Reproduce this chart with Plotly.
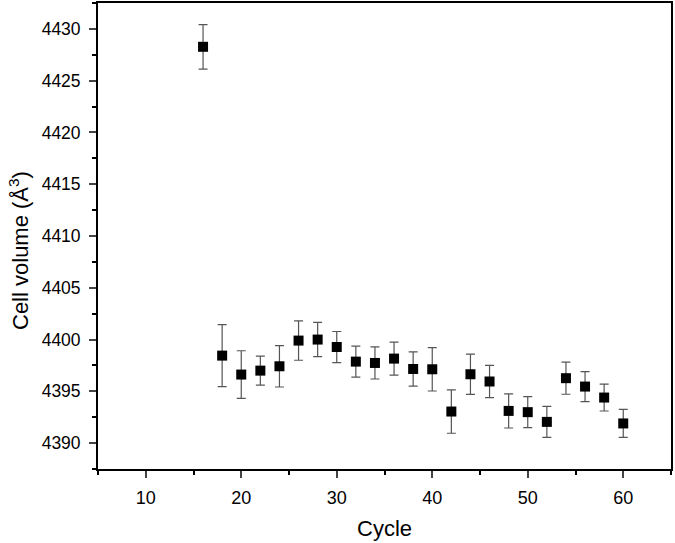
import plotly.graph_objects as go

cycle = [16, 18, 20, 22, 24, 26, 28, 30, 32, 34, 36, 38, 40, 42, 44, 46, 48, 50, 52, 54, 56, 58, 60]
volume = [4428.27, 4398.45, 4396.62, 4397.00, 4397.42, 4399.90, 4400.00, 4399.28, 4397.87, 4397.74,
          4398.16, 4397.16, 4397.13, 4393.05, 4396.65, 4395.95, 4393.11, 4392.99, 4392.05, 4396.27,
          4395.46, 4394.40, 4391.90]
error = [2.15, 3.0, 2.3, 1.4, 2.0, 1.9, 1.65, 1.5, 1.5, 1.55, 1.6, 1.65, 2.1, 2.1, 1.95, 1.55,
         1.65, 1.5, 1.5, 1.55, 1.45, 1.3, 1.35]

x_ticks = [10, 20, 30, 40, 50, 60]
y_ticks = [4390, 4395, 4400, 4405, 4410, 4415, 4420, 4425, 4430]
x_title = "Cycle"
y_title = "Cell volume (Å<sup>3</sup>)"

fig = go.Figure()
fig.add_trace(go.Scatter(
    x=cycle, y=volume, mode="markers",
    marker=dict(symbol="square", size=10, color="black"),
    error_y=dict(type="data", array=error, visible=True, color="#555555", thickness=1.2, width=4.5),
    showlegend=False,
))

font_family = "Liberation Sans, Arial, sans-serif"
fig.update_layout(
    width=675, height=543,
    margin=dict(l=98, r=4, t=3, b=74),
    paper_bgcolor="white", plot_bgcolor="white",
    font=dict(family=font_family, size=17.5, color="black"),
    xaxis=dict(
        range=[5, 65], tickvals=x_ticks, ticks="outside", ticklen=7, tickwidth=1.5,
        showline=True, linecolor="black", linewidth=1.8, mirror=True, showgrid=False, zeroline=False,
        minor=dict(dtick=5, tick0=5, ticks="outside", ticklen=4, tickwidth=1.5, tickcolor="black"),
        tickfont=dict(size=18), automargin=False, ticklabelstandoff=4,
    ),
    yaxis=dict(
        range=[4387.5, 4432.5], tickvals=y_ticks, ticks="outside", ticklen=7, tickwidth=1.5,
        showline=True, linecolor="black", linewidth=1.8, mirror=True, showgrid=False, zeroline=False,
        minor=dict(dtick=2.5, tick0=4387.5, ticks="outside", ticklen=4, tickwidth=1.5, tickcolor="black"),
        tickfont=dict(size=17.5), automargin=False, ticklabelstandoff=5,
    ),
    annotations=[
        dict(text=x_title, xref="paper", yref="paper", x=0.5, y=0, xanchor="center", yanchor="middle",
             yshift=-59, showarrow=False, font=dict(size=22)),
        dict(text=y_title, xref="paper", yref="paper", x=0, y=0.5, xanchor="center", yanchor="middle",
             xshift=-79, yshift=-15, textangle=-90, showarrow=False, font=dict(size=22)),
    ],
)

fig.write_html("out.html", config={"displayModeBar": False},
               post_script="document.body.style.margin='0';document.body.style.overflow='hidden';")
